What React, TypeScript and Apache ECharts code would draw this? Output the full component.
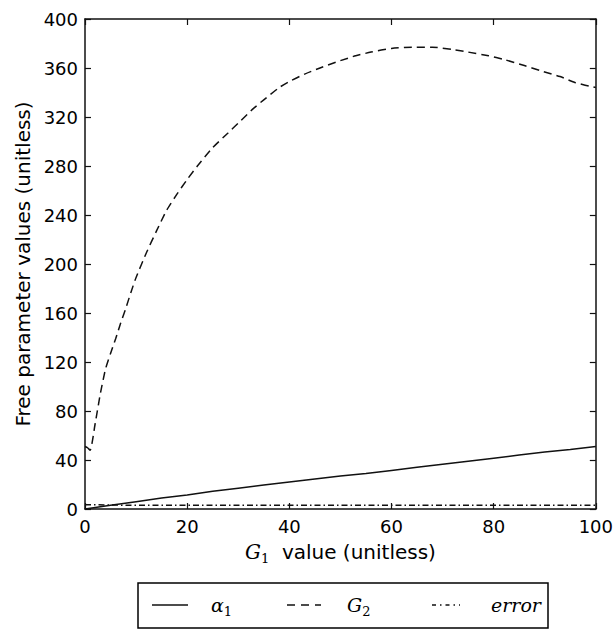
import React, { useEffect, useRef } from "react";
import * as echarts from "echarts";

const g2X = [0, 0.5, 1, 2, 3, 4, 5, 6, 7, 8, 9, 10, 12, 14, 16, 18, 20, 22, 25, 28, 30, 33, 35, 38, 40, 43, 46, 50, 53, 56, 60, 64, 68, 72, 75, 79, 82, 86, 89, 93, 96, 100];
const g2Y = [51, 50, 48, 70, 94, 114, 127, 139, 152, 164, 177, 189, 209, 227, 244, 257, 269, 280, 295, 307, 315, 327, 334, 344, 349, 355, 360, 366, 370, 373, 376, 377, 377, 375, 373, 370, 367, 362, 358, 353, 348, 344];

const alphaX = [0, 5, 10, 15, 20, 25, 30, 35, 40, 45, 50, 55, 60, 65, 70, 75, 80, 85, 90, 95, 100];
const alphaY = [0, 3, 6, 9, 11.5, 14.5, 17, 19.5, 22, 24.5, 27, 29, 31.5, 34, 36.5, 39, 41.5, 44, 46.5, 48.5, 51];

const errX = [0, 10, 20, 30, 40, 50, 60, 70, 80, 90, 100];
const errY = [3.5, 3, 3, 3, 3, 3, 3, 3, 3, 3, 3];

const xTicks = [0, 20, 40, 60, 80, 100];
const yTicks = [0, 40, 80, 120, 160, 200, 240, 280, 320, 360, 400];

const pairs = (xs: number[], ys: number[]) => xs.map((x, i) => [x, ys[i]]);

const AXIS_COLOR = "#111";
const SANS = "DejaVu Sans";
const SERIF = "DejaVu Serif";

export default function App() {
  const ref = useRef<HTMLDivElement>(null);
  useEffect(() => {
    if (!ref.current) return;
    const chart = echarts.init(ref.current, null, { renderer: "svg" });
    const tickCommon = { show: true, inside: true, length: 6, lineStyle: { color: AXIS_COLOR, width: 1.2 } };
    const lineCommon = { show: true, onZero: false, lineStyle: { color: AXIS_COLOR, width: 1.5 } };
    const legendY = 605;
    chart.setOption({
      animation: false,
      backgroundColor: "#fff",
      grid: { left: 85, top: 19, width: 511, height: 490, containLabel: false },
      xAxis: [
        {
          type: "value",
          min: xTicks[0],
          max: xTicks[xTicks.length - 1],
          interval: 20,
          position: "bottom",
          axisLine: lineCommon,
          axisTick: tickCommon,
          splitLine: { show: false },
          axisLabel: { color: "#000", fontFamily: SANS, fontSize: 18, margin: 8 },
          name: "{g|G}{sub|1}{t|  value (unitless)}",
          nameLocation: "middle",
          nameGap: 30,
          nameTextStyle: {
            color: "#000",
            fontFamily: SANS,
            fontSize: 20,
            rich: {
              g: { fontFamily: SERIF, fontStyle: "italic", fontSize: 20, color: "#000", lineHeight: 26, verticalAlign: "middle" },
              sub: { fontFamily: SERIF, fontSize: 13, color: "#000", lineHeight: 13, verticalAlign: "bottom" },
              t: { fontFamily: SANS, fontSize: 20, color: "#000", lineHeight: 26, verticalAlign: "middle" },
            },
          },
        },
        {
          type: "value",
          min: 0,
          max: 100,
          interval: 20,
          position: "top",
          axisLine: lineCommon,
          axisTick: tickCommon,
          splitLine: { show: false },
          axisLabel: { show: false },
        },
      ],
      yAxis: [
        {
          type: "value",
          min: yTicks[0],
          max: yTicks[yTicks.length - 1],
          interval: 40,
          position: "left",
          axisLine: lineCommon,
          axisTick: tickCommon,
          splitLine: { show: false },
          axisLabel: { color: "#000", fontFamily: SANS, fontSize: 18, margin: 7 },
          name: "Free parameter values (unitless)",
          nameLocation: "middle",
          nameGap: 50,
          nameTextStyle: { color: "#000", fontFamily: SANS, fontSize: 20 },
        },
        {
          type: "value",
          min: 0,
          max: 400,
          interval: 40,
          position: "right",
          axisLine: lineCommon,
          axisTick: tickCommon,
          splitLine: { show: false },
          axisLabel: { show: false },
        },
      ],
      series: [
        {
          name: "alpha1",
          type: "line",
          data: pairs(alphaX, alphaY),
          showSymbol: false,
          symbol: "none",
          lineStyle: { color: "#111", width: 1.5, type: "solid" },
        },
        {
          name: "G2",
          type: "line",
          data: pairs(g2X, g2Y),
          showSymbol: false,
          symbol: "none",
          smooth: 0.2,
          lineStyle: { color: "#111", width: 1.5, type: [8, 5] },
        },
        {
          name: "error",
          type: "line",
          data: pairs(errX, errY),
          showSymbol: false,
          symbol: "none",
          lineStyle: { color: "#111", width: 1.5, type: [6, 3, 1.5, 3] },
        },
      ],
      graphic: [
        {
          type: "rect",
          shape: { x: 138, y: 583, width: 410, height: 45 },
          style: { fill: "#fff", stroke: "#000", lineWidth: 1.5 },
          z: 10,
        },
        {
          type: "line",
          shape: { x1: 152, y1: legendY, x2: 188, y2: legendY },
          style: { stroke: "#111", lineWidth: 1.5 },
          z: 11,
        },
        {
          type: "line",
          shape: { x1: 287, y1: legendY, x2: 321, y2: legendY },
          style: { stroke: "#111", lineWidth: 1.5, lineDash: [8, 6] },
          z: 11,
        },
        {
          type: "line",
          shape: { x1: 432, y1: legendY, x2: 460, y2: legendY },
          style: { stroke: "#111", lineWidth: 1.5, lineDash: [4, 4, 1.5, 4] },
          z: 11,
        },
        {
          type: "text",
          x: 211,
          y: legendY,
          z: 11,
          style: {
            text: "{a|α}{sub|1}",
            verticalAlign: "middle",
            rich: {
              a: { fontFamily: SERIF, fontStyle: "italic", fontSize: 19, fill: "#000", lineHeight: 26, verticalAlign: "middle" },
              sub: { fontFamily: SERIF, fontSize: 13, fill: "#000", lineHeight: 13, verticalAlign: "bottom" },
            },
          },
        },
        {
          type: "text",
          x: 347,
          y: legendY,
          z: 11,
          style: {
            text: "{a|G}{sub|2}",
            verticalAlign: "middle",
            rich: {
              a: { fontFamily: SERIF, fontStyle: "italic", fontSize: 19, fill: "#000", lineHeight: 26, verticalAlign: "middle" },
              sub: { fontFamily: SERIF, fontSize: 13, fill: "#000", lineHeight: 13, verticalAlign: "bottom" },
            },
          },
        },
        {
          type: "text",
          x: 491,
          y: legendY,
          z: 11,
          style: {
            text: "error",
            fontFamily: SERIF,
            fontStyle: "italic",
            fontSize: 19,
            fill: "#000",
            verticalAlign: "middle",
          },
        },
      ],
    });
    return () => chart.dispose();
  }, []);
  return <div ref={ref} style={{ width: 616, height: 632, position: "fixed", left: 0, top: 0 }} />;
}
